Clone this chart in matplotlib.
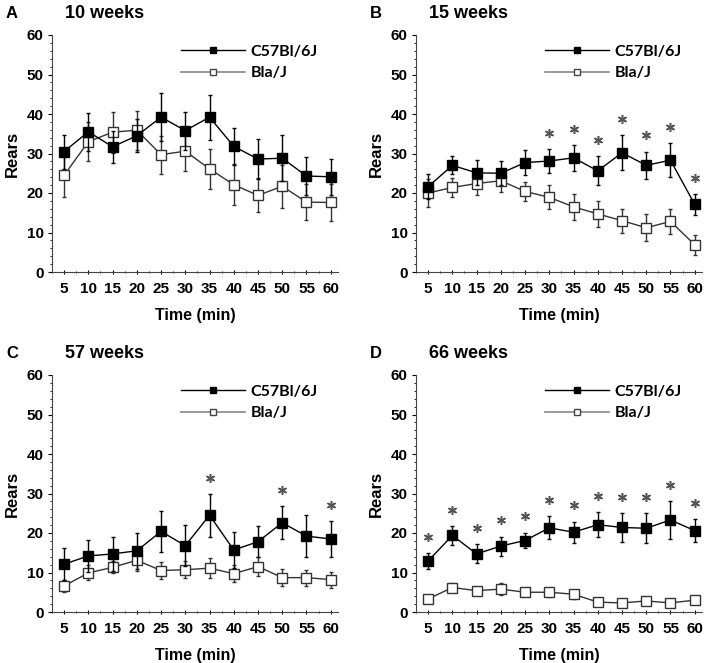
import matplotlib
matplotlib.use("Agg")
import matplotlib.pyplot as plt
import numpy as np
from matplotlib.ticker import MultipleLocator
from matplotlib.lines import Line2D

plt.rcParams['font.family'] = ['Liberation Sans', 'DejaVu Sans']
plt.rcParams['font.weight'] = 'bold'

time = [5, 10, 15, 20, 25, 30, 35, 40, 45, 50, 55, 60]

# A - 10 weeks
c57_a = [30.5, 35.5, 31.7, 34.5, 39.2, 35.8, 39.2, 31.8, 28.6, 28.8, 24.3, 24.1]
c57_a_err = [4.3, 4.8, 4.0, 4.2, 6.1, 4.8, 5.7, 4.6, 5.0, 5.8, 4.7, 4.5]
bla_a = [24.5, 33.0, 35.4, 35.9, 29.7, 30.6, 26.1, 22.1, 19.4, 21.7, 17.7, 17.6]
bla_a_err = [5.4, 4.9, 5.2, 4.9, 4.8, 5.1, 5.1, 5.2, 4.3, 5.4, 4.6, 4.7]
sig_a = []

# B - 15 weeks
c57_b = [21.6, 27.0, 25.1, 25.0, 27.7, 28.1, 28.9, 25.6, 30.2, 27.0, 28.3, 17.1]
c57_b_err = [3.1, 2.3, 3.2, 3.1, 3.2, 3.1, 3.3, 3.7, 4.4, 3.5, 4.3, 2.7]
bla_b = [20.0, 21.4, 22.4, 23.1, 20.4, 18.9, 16.5, 14.7, 13.0, 11.2, 12.8, 6.9]
bla_b_err = [3.6, 2.5, 2.8, 2.8, 2.5, 3.0, 3.3, 3.3, 3.0, 3.4, 3.1, 2.5]
sig_b = [30, 35, 40, 45, 50, 55, 60]

# C - 57 weeks
c57_c = [12.1, 14.2, 14.7, 15.5, 20.4, 16.8, 24.5, 15.7, 17.8, 22.6, 19.2, 18.5]
c57_c_err = [4.0, 4.0, 4.4, 4.5, 5.2, 5.2, 5.4, 4.5, 3.9, 4.2, 5.4, 4.5]
bla_c = [6.6, 9.9, 11.3, 13.1, 10.5, 10.7, 11.1, 9.7, 11.5, 8.7, 8.7, 8.2]
bla_c_err = [1.5, 1.9, 1.5, 2.7, 2.1, 2.1, 2.6, 2.1, 2.5, 2.1, 2.0, 2.0]
sig_c = [35, 50, 60]

# D - 66 weeks
c57_d = [12.9, 19.4, 14.7, 16.7, 18.1, 21.3, 20.2, 22.1, 21.4, 21.2, 23.3, 20.6]
c57_d_err = [2.0, 2.4, 2.4, 2.4, 2.0, 2.9, 2.7, 3.2, 3.6, 3.8, 4.7, 2.9]
bla_d = [3.3, 6.2, 5.4, 5.8, 5.0, 5.0, 4.5, 2.5, 2.3, 2.8, 2.3, 3.0]
bla_d_err = [0.5, 1.2, 0.6, 1.5, 0.9, 1.1, 1.1, 0.5, 0.3, 0.9, 0.3, 0.8]
sig_d = [5, 10, 15, 20, 25, 30, 35, 40, 45, 50, 55, 60]

panels = [
    ("A", "10 weeks", c57_a, c57_a_err, bla_a, bla_a_err, sig_a),
    ("B", "15 weeks", c57_b, c57_b_err, bla_b, bla_b_err, sig_b),
    ("C", "57 weeks", c57_c, c57_c_err, bla_c, bla_c_err, sig_c),
    ("D", "66 weeks", c57_d, c57_d_err, bla_d, bla_d_err, sig_d),
]

W, H = 709, 663
fig = plt.figure(figsize=(W / 100, H / 100), dpi=100)

# axes positions in pixels: left, top of plot area
pos = [(52, 35), (416, 35), (52, 375), (416, 375)]
ax_w, ax_h = 286, 237

for (letter, title, c57, c57e, bla, blae, sig), (px, py) in zip(panels, pos):
    ax = fig.add_axes([px / W, (H - py - ax_h) / H, ax_w / W, ax_h / H])
    ax.errorbar(time, bla, yerr=blae, color="#333333", lw=1, marker="s", ms=6.5,
                mfc="white", mec="#333333", mew=1, ecolor="#333333", elinewidth=1,
                capsize=1.5, zorder=2)
    ax.errorbar(time, c57, yerr=c57e, color="black", lw=1, marker="s", ms=6.5,
                mfc="black", mec="black", ecolor="black", elinewidth=1,
                capsize=1.5, zorder=3)
    for t in sig:
        i = time.index(t)
        ax.plot(t, c57[i] + c57e[i] + 4.1, marker=(6, 2, 0), ms=6.5, mew=1.1,
                color="#555555", ls="none")
    ax.set_xlim(2.5, 61.5)
    ax.set_ylim(0, 60)
    ax.set_xticks(time)
    ax.set_yticks(range(0, 61, 10))
    ax.xaxis.set_minor_locator(MultipleLocator(2.5))
    ax.yaxis.set_minor_locator(MultipleLocator(2))
    ax.tick_params(which="major", length=3, width=0.8, labelsize=11, pad=3)
    ax.tick_params(which="minor", length=1.5, width=0.6)
    ax.tick_params(axis="x", which="both", direction="inout")
    ax.tick_params(axis="x", which="major", pad=6)
    for lab in ax.get_xticklabels() + ax.get_yticklabels():
        lab.set_fontweight("bold")
    ax.spines["top"].set_visible(False)
    ax.spines["right"].set_visible(False)
    ax.spines["left"].set_color("#444444")
    ax.spines["bottom"].set_color("#444444")
    ax.set_xlabel("Time (min)", fontsize=11.5, fontweight="bold", labelpad=8)
    ax.set_ylabel("Rears", fontsize=12, fontweight="bold", labelpad=5)
    handles = [
        Line2D([], [], color="black", lw=1, marker="s", ms=4.5, mfc="black", mec="black"),
        Line2D([], [], color="#888888", lw=1.2, marker="s", ms=4.5, mfc="white", mec="#444444"),
    ]
    ax.legend(handles, ["C57Bl/6J", "Bla/J"], loc="upper right", bbox_to_anchor=(0.98, 1.02),
              frameon=False, handlelength=4.0, labelspacing=0.45, handletextpad=0.35,
              prop={"family": "Lato", "weight": "bold", "size": 11.5})
    fig.text((px - 46) / W, 1 - (py - 21) / H, letter, fontsize=12, fontweight="bold",
             va="center", ha="left")
    fig.text((px + 13) / W, 1 - (py - 21) / H, title, fontsize=13, fontweight="bold",
             va="center", ha="left")

fig.savefig("out.png", dpi=100)
